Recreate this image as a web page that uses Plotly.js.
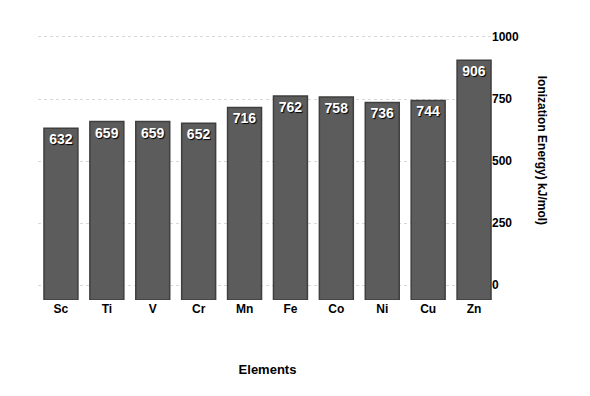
<!DOCTYPE html>
<html>
<head>
<meta charset="utf-8">
<script src="https://cdn.plot.ly/plotly-3.0.1.min.js"></script>
<style>html,body{margin:0;padding:0;background:#fff;}#chart{width:590px;height:396px;}</style>
</head>
<body>
<div id="chart"></div>
<script>
const elements = ["Sc", "Ti", "V", "Cr", "Mn", "Fe", "Co", "Ni", "Cu", "Zn"];
const ionizationEnergy = [632, 659, 659, 652, 716, 762, 758, 736, 744, 906];
const yTicks = [0, 250, 500, 750, 1000];

const FONT = "Liberation Sans, Arial, Helvetica, sans-serif";

const trace = {
  type: "bar",
  x: elements,
  y: ionizationEnergy.map(v => v + 60),
  base: -60,
  text: ionizationEnergy.map(String),
  textposition: "inside",
  insidetextanchor: "end",
  textangle: 0,
  cliponaxis: false,
  textfont: {family: FONT, size: 14, color: "#ffffff", weight: "bold", shadow: "1px 1px 1px #000"},
  marker: {color: "#5b5c5b", line: {color: "#3e3f3e", width: 1.5}},
  hoverinfo: "x+text"
};

const layout = {
  width: 590, height: 396,
  margin: {l: 38, r: 93, t: 32, b: 96},
  paper_bgcolor: "#ffffff",
  plot_bgcolor: "#ffffff",
  showlegend: false,
  bargap: 0.26,
  font: {family: FONT, color: "#000"},
  xaxis: {
    type: "category",
    showgrid: false, zeroline: false, showline: false,
    ticks: "",
    tickfont: {family: FONT, size: 12, color: "#000", weight: "bold"},
    title: {text: "Elements", font: {family: FONT, size: 13, color: "#000", weight: "bold"}, standoff: 49}
  },
  yaxis: {
    side: "right",
    range: [-60, 1020],
    tickvals: yTicks,
    ticktext: yTicks.map(String),
    showgrid: true, gridcolor: "#d8d8d8", griddash: "dot", gridwidth: 1,
    zeroline: false, showline: false, ticks: "",
    ticklabelstandoff: -6,
    tickfont: {family: FONT, size: 12, color: "#000", weight: "bold"}
  },
  annotations: [{
    text: "Ionization Energy) kJ/mol)",
    xref: "paper", yref: "paper",
    x: 1.118, y: 0.56,
    showarrow: false, textangle: 90,
    font: {family: FONT, size: 12, color: "#000", weight: "bold"}
  }]
};

Plotly.newPlot("chart", [trace], layout, {displayModeBar: false, staticPlot: true});
</script>
</body>
</html>
